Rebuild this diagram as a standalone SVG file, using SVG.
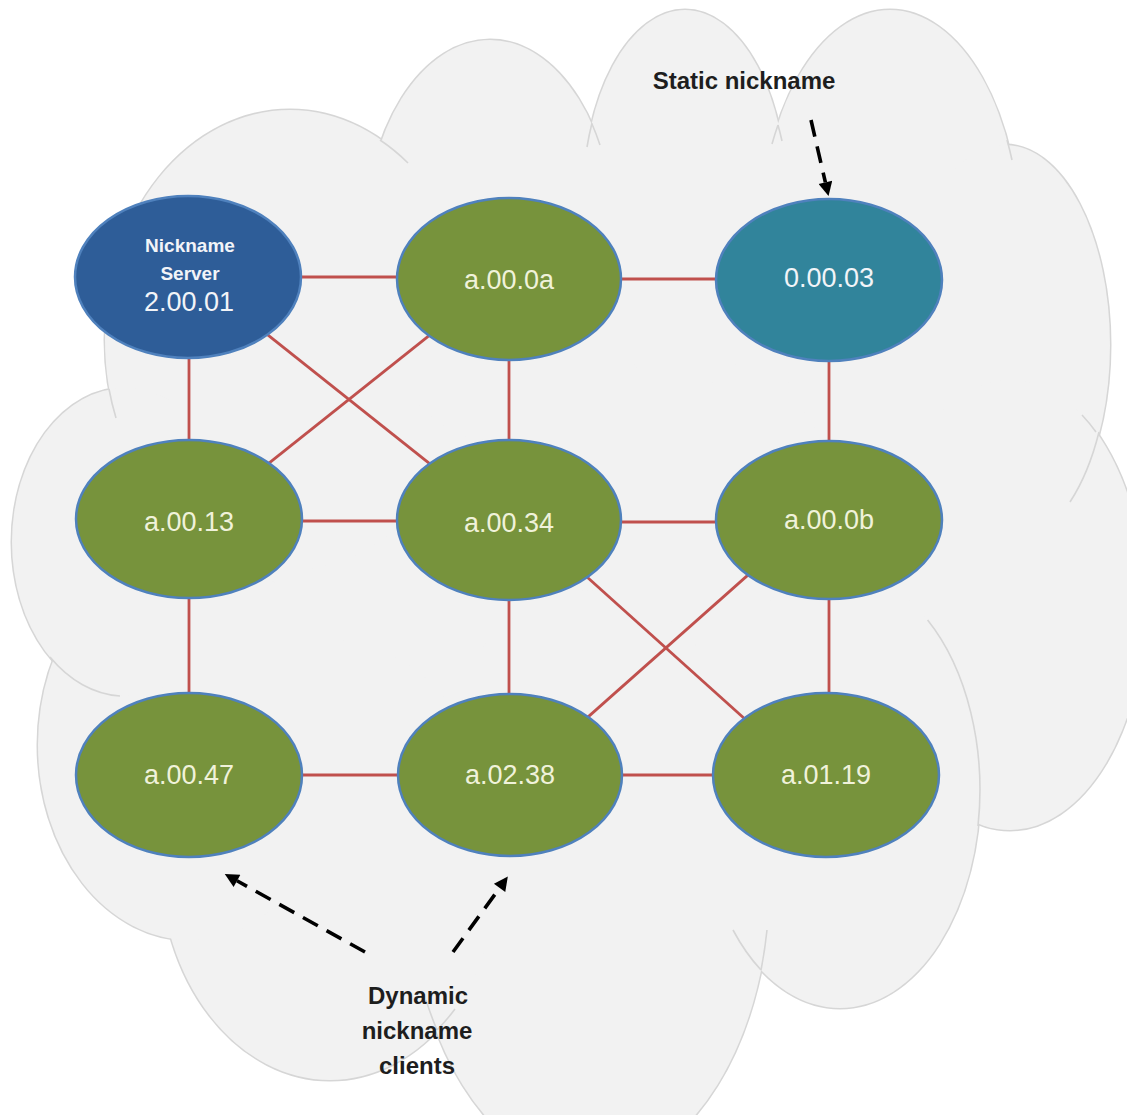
<svg xmlns="http://www.w3.org/2000/svg" width="1127" height="1115" viewBox="0 0 1127 1115">
  <style>
    .lobe-s { fill: none; stroke: #D6D6D6; stroke-width: 3; }
    .lobe-f { fill: #F2F2F2; stroke: none; }
    .tail { fill: none; stroke: #D6D6D6; stroke-width: 1.6; }
    .edge { stroke: #C0504D; stroke-width: 2.8; fill: none; }
    .node { stroke: #4F81BD; stroke-width: 2.5; }
    .green { fill: #77933C; }
    .server { fill: #2E5D98; }
    .static { fill: #31849B; }
    .lbl { font-family: "Liberation Sans", Arial, sans-serif; font-size: 27px; fill: #F0F2DA; text-anchor: middle; }
    .lblw { font-family: "Liberation Sans", Arial, sans-serif; fill: #F2F4F8; text-anchor: middle; }
    .note { font-family: "Liberation Sans", Arial, sans-serif; font-size: 24px; font-weight: bold; fill: #1E1E1E; text-anchor: middle; }
    .dash { stroke: #000; stroke-width: 3.6; stroke-dasharray: 17 10; fill: none; }
  </style>
  <defs>
    <marker id="ah" viewBox="0 0 10 10" refX="0" refY="5" markerWidth="16" markerHeight="14" markerUnits="userSpaceOnUse" orient="auto">
      <path d="M0,0 L10,5 L0,10 z" fill="#000"/>
    </marker>
  </defs>
  <rect width="1127" height="1115" fill="#FFFFFF"/>

  <g id="cloud">
    <g>
      <ellipse class="lobe-s" cx="290" cy="340" rx="185" ry="230"/>
      <ellipse class="lobe-s" cx="490" cy="240" rx="125" ry="200"/>
      <ellipse class="lobe-s" cx="685" cy="200" rx="102" ry="190"/>
      <ellipse class="lobe-s" cx="890" cy="240" rx="130" ry="230"/>
      <ellipse class="lobe-s" cx="1005" cy="345" rx="105" ry="200"/>
      <ellipse class="lobe-s" cx="1010" cy="605" rx="135" ry="225"/>
      <ellipse class="lobe-s" cx="840" cy="790" rx="140" ry="218"/>
      <ellipse class="lobe-s" cx="590" cy="880" rx="180" ry="290"/>
      <ellipse class="lobe-s" cx="330" cy="860" rx="170" ry="220"/>
      <ellipse class="lobe-s" cx="190" cy="745" rx="152" ry="195"/>
      <ellipse class="lobe-s" cx="125" cy="542" rx="113" ry="154"/>
    </g>
    <g>
      <polygon class="lobe-f" points="290,340 490,240 685,200 890,240 1005,345 1010,605 840,790 590,880 330,860 190,745 125,542"/>
      <ellipse class="lobe-f" cx="290" cy="340" rx="185" ry="230"/>
      <ellipse class="lobe-f" cx="490" cy="240" rx="125" ry="200"/>
      <ellipse class="lobe-f" cx="685" cy="200" rx="102" ry="190"/>
      <ellipse class="lobe-f" cx="890" cy="240" rx="130" ry="230"/>
      <ellipse class="lobe-f" cx="1005" cy="345" rx="105" ry="200"/>
      <ellipse class="lobe-f" cx="1010" cy="605" rx="135" ry="225"/>
      <ellipse class="lobe-f" cx="840" cy="790" rx="140" ry="218"/>
      <ellipse class="lobe-f" cx="590" cy="880" rx="180" ry="290"/>
      <ellipse class="lobe-f" cx="330" cy="860" rx="170" ry="220"/>
      <ellipse class="lobe-f" cx="190" cy="745" rx="152" ry="195"/>
      <ellipse class="lobe-f" cx="125" cy="542" rx="113" ry="154"/>
    </g>
    <g>
      <path class="tail" d="M109,389 A185 230 0 0 0 116,418"/>
      <path class="tail" d="M380,140 A185 230 0 0 1 408,163"/>
      <path class="tail" d="M592,124 A125 200 0 0 1 600,145"/>
      <path class="tail" d="M592,123 A102 190 0 0 0 587,147"/>
      <path class="tail" d="M778,125 A102 190 0 0 1 782,141"/>
      <path class="tail" d="M778,125 A130 230 0 0 0 772,144"/>
      <path class="tail" d="M1007,140 A130 230 0 0 1 1012,160"/>
      <path class="tail" d="M1099,432 A105 200 0 0 1 1070,502"/>
      <path class="tail" d="M1096,432 A135 225 0 0 0 1082,415"/>
      <path class="tail" d="M927.6,620 A140 218 0 0 1 978,826"/>
      <path class="tail" d="M761,970 A140 218 0 0 1 733,930"/>
      <path class="tail" d="M761,970 A180 290 0 0 0 767,930"/>
      <path class="tail" d="M437,1030 A180 290 0 0 1 426,1000"/>
      <path class="tail" d="M437,1030 A170 220 0 0 0 455,1009"/>
      <path class="tail" d="M50,657 A113 154 0 0 0 120,696"/>
    </g>
  </g>

  <g id="connectors">
    <line class="edge" x1="188" y1="277" x2="509" y2="277"/>
    <line class="edge" x1="509" y1="279" x2="829" y2="279"/>
    <line class="edge" x1="189" y1="277" x2="189" y2="519"/>
    <line class="edge" x1="509" y1="279" x2="509" y2="520"/>
    <line class="edge" x1="829" y1="280" x2="829" y2="520"/>
    <line class="edge" x1="260.2" y1="328.8" x2="437.8" y2="470.2"/>
    <line class="edge" x1="433.8" y1="331.8" x2="260.2" y2="470.2"/>
    <line class="edge" x1="189" y1="521" x2="509" y2="521"/>
    <line class="edge" x1="509" y1="522" x2="829" y2="522"/>
    <line class="edge" x1="189" y1="519" x2="189" y2="775"/>
    <line class="edge" x1="509" y1="520" x2="509" y2="775"/>
    <line class="edge" x1="829" y1="520" x2="829" y2="775"/>
    <line class="edge" x1="580.6" y1="571.3" x2="752.4" y2="725.7"/>
    <line class="edge" x1="755.5" y1="568.4" x2="580.5" y2="723.6"/>
    <line class="edge" x1="189" y1="775" x2="510" y2="775"/>
    <line class="edge" x1="510" y1="775" x2="826" y2="775"/>
  </g>

  <g id="node-server">
    <ellipse class="node server" cx="188" cy="277" rx="113" ry="81"/>
    <text class="lblw" x="190" y="252" font-size="19" font-weight="bold">Nickname</text>
    <text class="lblw" x="190" y="280" font-size="19" font-weight="bold">Server</text>
    <text class="lblw" x="189" y="311" font-size="27">2.00.01</text>
  </g>
  <g id="node-a000a">
    <ellipse class="node green" cx="509" cy="279" rx="112" ry="81"/>
    <text class="lbl" x="509" y="289">a.00.0a</text>
  </g>
  <g id="node-00003">
    <ellipse class="node static" cx="829" cy="280" rx="113" ry="81"/>
    <text class="lblw" x="829" y="287" font-size="27">0.00.03</text>
  </g>
  <g id="node-a0013">
    <ellipse class="node green" cx="189" cy="519" rx="113" ry="79"/>
    <text class="lbl" x="189" y="531">a.00.13</text>
  </g>
  <g id="node-a0034">
    <ellipse class="node green" cx="509" cy="520" rx="112" ry="80"/>
    <text class="lbl" x="509" y="532">a.00.34</text>
  </g>
  <g id="node-a000b">
    <ellipse class="node green" cx="829" cy="520" rx="113" ry="79"/>
    <text class="lbl" x="829" y="529">a.00.0b</text>
  </g>
  <g id="node-a0047">
    <ellipse class="node green" cx="189" cy="775" rx="113" ry="82"/>
    <text class="lbl" x="189" y="784">a.00.47</text>
  </g>
  <g id="node-a0238">
    <ellipse class="node green" cx="510" cy="775" rx="112" ry="81"/>
    <text class="lbl" x="510" y="784">a.02.38</text>
  </g>
  <g id="node-a0119">
    <ellipse class="node green" cx="826" cy="775" rx="113" ry="82"/>
    <text class="lbl" x="826" y="784">a.01.19</text>
  </g>

  <g id="annotations">
    <text class="note" x="744" y="89">Static nickname</text>
    <line class="dash" x1="811" y1="120" x2="825.4" y2="182.4" marker-end="url(#ah)"/>
    <line class="dash" x1="365" y1="952" x2="237" y2="880.8" marker-end="url(#ah)"/>
    <line class="dash" x1="453" y1="952" x2="499.6" y2="887.9" marker-end="url(#ah)"/>
    <text class="note" x="418" y="1004">Dynamic</text>
    <text class="note" x="417" y="1039">nickname</text>
    <text class="note" x="417" y="1074">clients</text>
  </g>
</svg>
